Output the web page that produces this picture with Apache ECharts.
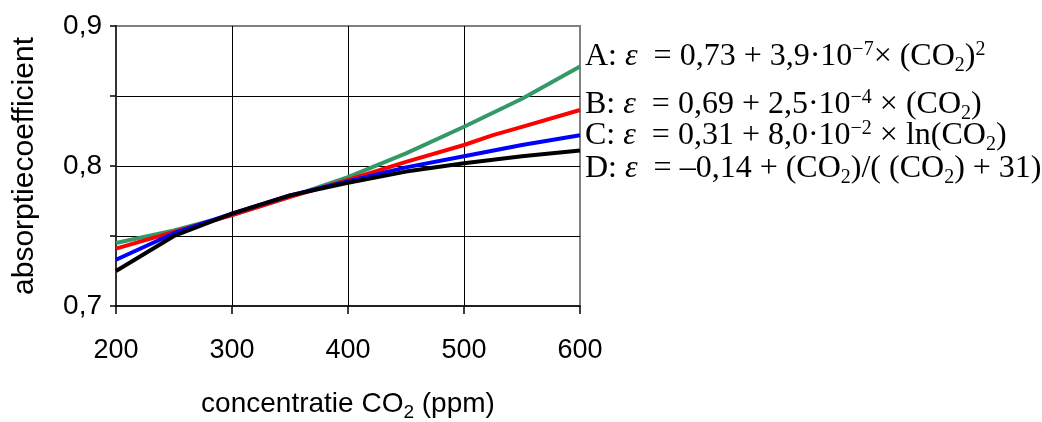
<!DOCTYPE html>
<html>
<head>
<meta charset="utf-8">
<script src="https://cdn.jsdelivr.net/npm/echarts@6/dist/echarts.min.js"></script>
<style>
html,body{margin:0;padding:0;background:#fff;}
#chart{width:1042px;height:422px;}
</style>
</head>
<body>
<div id="chart"></div>
<script>
// ---- data ----
const xA = [200, 250, 300, 350, 400, 450, 500, 550, 600];
const yA = [0.745, 0.754, 0.765, 0.778, 0.792, 0.809, 0.828, 0.848, 0.871];
const xB = [200, 250, 300, 350, 400, 450, 500, 525, 550, 600];
const yB = [0.741, 0.753, 0.765, 0.778, 0.790, 0.803, 0.815, 0.822, 0.828, 0.840];
const xC = [200, 250, 300, 350, 400, 450, 500, 550, 600];
const yC = [0.733, 0.752, 0.766, 0.779, 0.789, 0.799, 0.807, 0.815, 0.822];
const xD = [200, 250, 300, 350, 400, 450, 500, 550, 600];
const yD = [0.725, 0.750, 0.766, 0.779, 0.788, 0.796, 0.802, 0.807, 0.811];
const seriesNames = ['A', 'B', 'C', 'D'];
const seriesColors = ['#339966', '#ff0000', '#0000ff', '#000000'];
const yTickValues = [0.7, 0.8, 0.9];
const yTickLabels = ['0,7', '0,8', '0,9'];
const xTickLabels = ['200', '300', '400', '500', '600'];
const legendTexts = [
  '{t|A: }{e|ε}{t|  = 0,73 + 3,9·10}{sup|−7}{t|× (CO}{sub|2}{t|)}{sup|2}',
  '{t|B: }{e|ε}{t|  = 0,69 + 2,5·10}{sup|−4}{t| × (CO}{sub|2}{t|)}',
  '{t|C: }{e|ε}{t|  = 0,31 + 8,0·10}{sup|−2}{t| × ln(CO}{sub|2}{t|)}',
  '{t|D: }{e|ε}{t|  = –0,14 + (CO}{sub|2}{t|)/( (CO}{sub|2}{t|) + 31)}'
];

const pairs = (xs, ys) => xs.map((x, i) => [x, ys[i]]);
const allData = [pairs(xA, yA), pairs(xB, yB), pairs(xC, yC), pairs(xD, yD)];

const chart = echarts.init(document.getElementById('chart'), null, {renderer: 'canvas'});

const serif = 'Liberation Serif';
const sans = 'Liberation Sans';
const richLegend = {
  t: {fontFamily: serif, fontSize: 32, lineHeight: 32, color: '#000'},
  e: {fontFamily: serif, fontSize: 32, lineHeight: 32, fontStyle: 'italic', color: '#000'},
  sup: {fontFamily: serif, fontSize: 20, height: 18, verticalAlign: 'top', color: '#000'},
  sub: {fontFamily: serif, fontSize: 20, height: 14, verticalAlign: 'bottom', color: '#000'}
};
const legendTops = [40, 88, 119, 153];

const option = {
  animation: false,
  backgroundColor: '#fff',
  grid: {
    left: 116, right: 462, top: 26, bottom: 116,
    containLabel: false, outerBoundsMode: 'none',
    show: true, borderColor: '#808080', borderWidth: 2
  },
  xAxis: {
    type: 'value', min: 200, max: 600, interval: 100,
    name: '{a|concentratie CO}{s|2}{a| (ppm)}',
    nameLocation: 'middle', nameGap: 84,
    nameTextStyle: {
      rich: {
        a: {fontFamily: sans, fontSize: 28, lineHeight: 28, color: '#000'},
        s: {fontFamily: sans, fontSize: 19, height: 10, verticalAlign: 'bottom', color: '#000'}
      }
    },
    axisLine: {show: true, lineStyle: {color: '#000', width: 1.5}},
    axisTick: {show: true, inside: false, length: 8, lineStyle: {color: '#000', width: 1.5}},
    axisLabel: {
      margin: 31, fontFamily: sans, fontSize: 27, color: '#000',
      formatter: v => { const i = (v - 200) / 100; return xTickLabels[i] !== undefined ? xTickLabels[i] : ''; }
    },
    splitLine: {show: true, showMinLine: false, showMaxLine: false, lineStyle: {color: '#000', width: 1}}
  },
  yAxis: {
    type: 'value', min: 0.7, max: 0.9, interval: 0.05,
    name: 'absorptiecoefficient',
    nameLocation: 'middle', nameGap: 76,
    nameTextStyle: {fontFamily: sans, fontSize: 30, color: '#000'},
    axisLine: {show: true, lineStyle: {color: '#333', width: 2}},
    axisTick: {show: true, inside: false, length: 6, lineStyle: {color: '#000', width: 1.5}},
    axisLabel: {
      margin: 14, fontFamily: sans, fontSize: 28, color: '#000',
      formatter: v => {
        const i = yTickValues.findIndex(t => Math.abs(t - v) < 1e-6);
        return i >= 0 ? yTickLabels[i] : '';
      }
    },
    splitLine: {show: true, showMinLine: false, showMaxLine: false, lineStyle: {color: '#000', width: 1}}
  },
  series: seriesNames.map((n, i) => ({
    name: n,
    type: 'line',
    data: allData[i],
    symbol: 'none',
    lineStyle: {color: seriesColors[i], width: 4},
    z: 3 + i
  })),
  graphic: legendTexts.map((txt, i) => ({
    type: 'text',
    left: 585,
    top: legendTops[i],
    style: {
      text: txt,
      rich: richLegend,
      fill: '#000'
    }
  }))
};
chart.setOption(option);
</script>
</body>
</html>
